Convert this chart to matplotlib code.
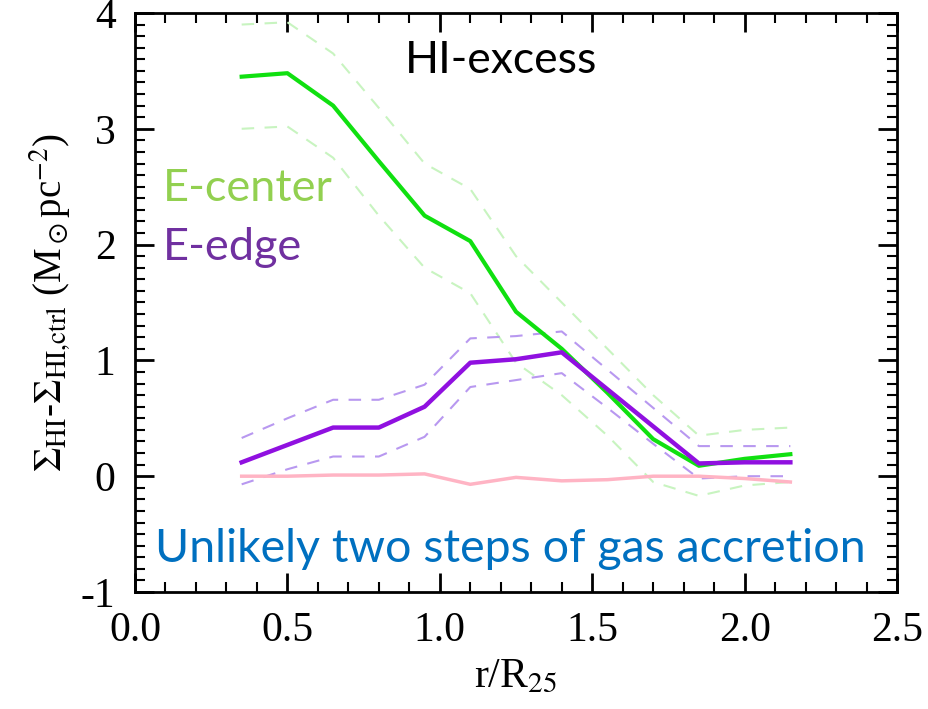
import numpy as np
import matplotlib
matplotlib.use('Agg')
import matplotlib.pyplot as plt
from matplotlib.ticker import MultipleLocator

plt.rcParams['mathtext.fontset'] = 'stix'
plt.rcParams['font.family'] = ['Liberation Serif', 'DejaVu Serif']

# radii (r/R25)
r = [0.35, 0.5, 0.65, 0.8, 0.95, 1.1, 1.25, 1.4, 1.55, 1.7, 1.85, 2.0, 2.15]

# E-center (green)
center = [3.45, 3.48, 3.2, 2.72, 2.25, 2.03, 1.42, 1.1, 0.72, 0.32, 0.09, 0.15, 0.19]
center_hi = [3.9, 3.92, 3.65, 3.18, 2.7, 2.48, 1.9, 1.5, 1.1, 0.7, 0.35, 0.4, 0.42]
center_lo = [3.0, 3.02, 2.75, 2.25, 1.8, 1.58, 0.98, 0.7, 0.35, -0.05, -0.17, -0.08, -0.05]

# E-edge (purple)
edge = [0.12, 0.27, 0.42, 0.42, 0.6, 0.98, 1.01, 1.07, 0.75, 0.43, 0.11, 0.12, 0.12]
edge_hi = [0.33, 0.5, 0.66, 0.66, 0.79, 1.19, 1.21, 1.25, 0.92, 0.59, 0.26, 0.26, 0.26]
edge_lo = [-0.07, 0.06, 0.17, 0.17, 0.34, 0.77, 0.83, 0.89, 0.59, 0.28, -0.02, 0.0, 0.0]

# control (pink)
ctrl = [0.0, 0.0, 0.01, 0.01, 0.02, -0.07, -0.01, -0.04, -0.03, 0.0, 0.0, -0.02, -0.05]

fig = plt.figure(figsize=(9.29, 7.09), dpi=100)
ax = fig.add_axes([0.1453, 0.165, 0.8203, 0.8167])

ax.plot(r, center_hi, color='#c8f4c0', lw=1.5, ls=(0, (6, 5)))
ax.plot(r, center_lo, color='#c8f4c0', lw=1.5, ls=(0, (6, 5)))
ax.plot(r, edge_hi, color='#b898f0', lw=1.5, ls=(0, (6, 5)))
ax.plot(r, edge_lo, color='#b898f0', lw=1.5, ls=(0, (6, 5)))
ax.plot(r, ctrl, color='#ffb4c4', lw=2.5)
ax.plot(r, center, color='#10e010', lw=3)
ax.plot(r, edge, color='#9010e0', lw=3.2)

ax.set_xlim(0, 2.5)
ax.set_ylim(-1, 4)
ax.xaxis.set_major_locator(MultipleLocator(0.5))
ax.xaxis.set_minor_locator(MultipleLocator(0.1))
ax.yaxis.set_major_locator(MultipleLocator(1))
ax.yaxis.set_minor_locator(MultipleLocator(0.1))
ax.xaxis.set_major_formatter(plt.FuncFormatter(lambda v, p: '%.1f' % v))
ax.yaxis.set_major_formatter(plt.FuncFormatter(lambda v, p: '%d' % v))
ax.tick_params(which='both', direction='in', top=True, right=True, labelsize=30, width=2)
ax.tick_params(which='major', length=14, pad=14)
ax.tick_params(which='minor', length=7, width=1.5)
for s in ax.spines.values():
    s.set_linewidth(2)

ax.set_xlabel(r'r/R$_{25}$', fontsize=30, labelpad=6)
ax.set_ylabel(r'$\Sigma_{\rm HI}$-$\Sigma_{\rm HI{,}ctrl}$ (M$_\odot$pc$^{-2}$)', fontsize=28, labelpad=6)

calib = ['Lato', 'DejaVu Sans']
ax.text(0.886, 3.48, 'HI-excess', family=calib, fontsize=32, color='black', ha='left', va='baseline')
ax.text(0.092, 2.38, 'E-center', family=calib, fontsize=32.5, color='#92d050', ha='left', va='baseline')
ax.text(0.092, 1.865, 'E-edge', family=calib, fontsize=32.5, color='#7030a0', ha='left', va='baseline')
ax.text(0.066, -0.74, 'Unlikely two steps of gas accretion', family=calib, fontsize=33.5,
        color='#0070c0', ha='left', va='baseline')

fig.savefig('out.png', dpi=100)
